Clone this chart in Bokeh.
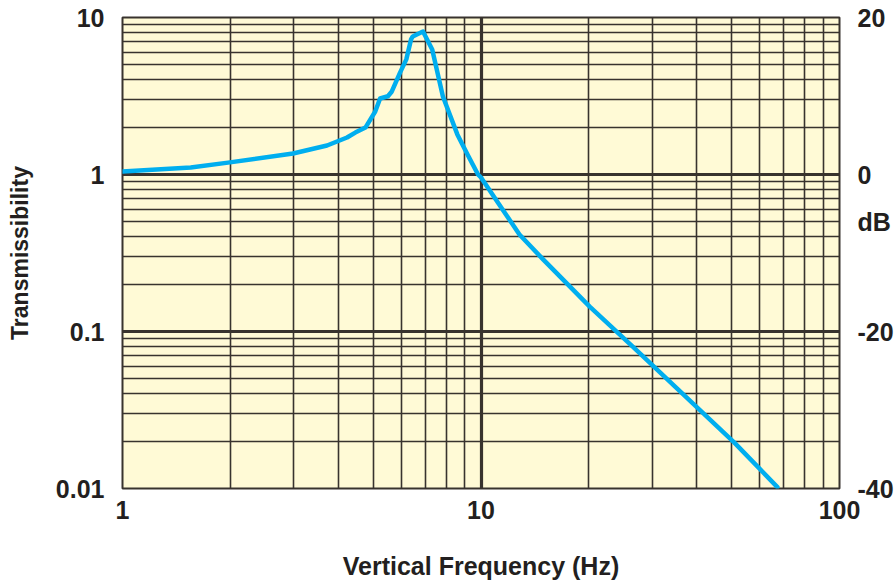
from bokeh.plotting import figure
from bokeh.models import Range1d, LinearAxis, LinearScale, FixedTicker, CustomJSTickFormatter
from bokeh.embed import file_html
from bokeh.resources import INLINE

# ---- data ----
freq_hz = [1.0, 1.55, 1.97, 2.99, 3.72, 4.23, 4.46, 4.76, 5.07, 5.23, 5.5, 5.64,
           5.95, 6.19, 6.38, 6.45, 6.89, 7.31, 7.83, 8.59, 9.17, 9.81, 10.0,
           12.8, 14.9, 20.1, 26.5, 50.9, 67.1]
transmissibility = [1.045, 1.108, 1.19, 1.36, 1.53, 1.72, 1.85, 1.99, 2.52, 3.05, 3.15, 3.38,
                    4.47, 5.41, 7.25, 7.57, 8.14, 6.25, 3.14, 1.80, 1.34, 1.0, 0.957,
                    0.415, 0.288, 0.144, 0.080, 0.0196, 0.0102]

x_major = [1, 10, 100]
x_minor = [2, 3, 4, 5, 6, 7, 8, 9, 20, 30, 40, 50, 60, 70, 80, 90]
y_major = [0.01, 0.1, 1, 10]
y_minor = [0.02, 0.03, 0.04, 0.05, 0.06, 0.07, 0.08, 0.09,
           0.2, 0.3, 0.4, 0.5, 0.6, 0.7, 0.8, 0.9,
           2, 3, 4, 5, 6, 7, 8, 9]
db_ticks = [20, 0, -6, -20, -40]
db_unit_tick = -6

FONT = "Liberation Sans"
TXT = "#231F20"
GRID = "#38332E"
BG = "#FFFAD6"
LINE = "#00AEEF"

p = figure(width=896, height=582, x_axis_type="log", y_axis_type="log",
           x_range=Range1d(1, 100), y_range=Range1d(0.01, 10),
           output_backend="svg", toolbar_location=None,
           min_border_left=122, min_border_right=50,
           min_border_top=17, min_border_bottom=93)
p.background_fill_color = BG
p.border_fill_color = "white"
p.outline_line_color = GRID
p.outline_line_width = 2

xax = p.below[0]
lax = p.left[0]

xax.ticker = FixedTicker(ticks=x_major, minor_ticks=x_minor)
lax.ticker = FixedTicker(ticks=y_major, minor_ticks=y_minor)
fmt = CustomJSTickFormatter(code="return tick.toString();")
xax.formatter = fmt
lax.formatter = fmt

for g in (p.xgrid[0], p.ygrid[0]):
    g.grid_line_color = GRID
    g.grid_line_width = 3.2
    g.minor_grid_line_color = GRID
    g.minor_grid_line_width = 1.6

p.extra_y_ranges = {"db": Range1d(-40, 20)}
p.extra_y_scales = {"db": LinearScale()}
rax = LinearAxis(y_range_name="db",
                 ticker=FixedTicker(ticks=db_ticks, minor_ticks=[]),
                 formatter=CustomJSTickFormatter(
                     code="return tick == %d ? 'dB' : tick.toString();" % db_unit_tick))
p.add_layout(rax, "right")

for ax in (xax, lax, rax):
    ax.axis_line_color = None
    ax.major_tick_line_color = None
    ax.minor_tick_line_color = None
    ax.major_label_text_font = FONT
    ax.major_label_text_font_style = "bold"
    ax.major_label_text_font_size = "25px"
    ax.major_label_text_color = TXT
    ax.axis_label_text_font = FONT
    ax.axis_label_text_font_style = "bold"
    ax.axis_label_text_color = TXT

xax.major_label_standoff = 6
lax.major_label_standoff = 12
rax.major_label_standoff = 12

xax.axis_label = "Vertical Frequency (Hz)"
xax.axis_label_text_font_size = "25px"
xax.axis_label_standoff = 30
lax.axis_label = "Transmissibility"
lax.axis_label_text_font_size = "23px"
lax.axis_label_standoff = 20

p.line(freq_hz, transmissibility, line_color=LINE, line_width=4.5,
       line_join="round", line_cap="round")

open("out.html", "w").write(file_html(p, INLINE))
